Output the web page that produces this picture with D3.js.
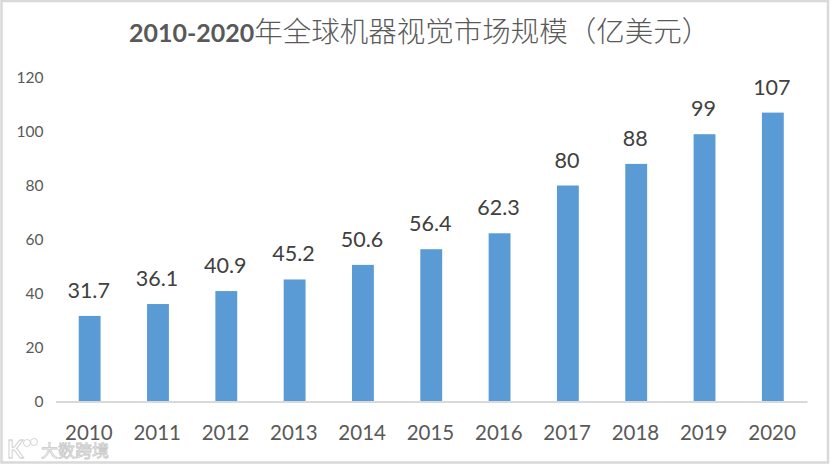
<!DOCTYPE html>
<html><head><meta charset="utf-8">
<script src="https://cdn.jsdelivr.net/npm/d3@7/dist/d3.min.js"></script>
<style>html,body{margin:0;padding:0;background:#fff}svg{display:block}text{font-family:Lato,"Noto Sans CJK SC",sans-serif}</style>
</head><body><svg id="c" width="831" height="465"></svg>
<script>
const years=["2010","2011","2012","2013","2014","2015","2016","2017","2018","2019","2020"];
const values=[31.7,36.1,40.9,45.2,50.6,56.4,62.3,80,88,99,107];
const valueTicks=[0,20,40,60,80,100,120];
const titleLatin="2010-2020";
const titleCjk="年全球机器视觉市场规模（亿美元）";
const watermark="大数跨境";

const svg=d3.select("#c");
svg.append("rect").attr("x",1.5).attr("y",1).attr("width",826.5).attr("height",461.5)
  .attr("fill","#fff").attr("stroke","#d9d9d9").attr("stroke-width",2.5);

const x=d3.scaleBand().domain(years).range([55.5,807]).paddingInner(0.68).paddingOuter(0.34);
const y=d3.scaleLinear().domain([0,120]).range([401.5,77.5]);

const gy=svg.append("g").attr("transform","translate(43.5,0)")
  .call(d3.axisLeft(y).tickValues(valueTicks).tickSize(0).tickPadding(0));
gy.select(".domain").remove();
gy.selectAll("text").attr("font-size",15.5).attr("fill","#595959").attr("font-family","Lato").attr("dy","0.33em");

svg.append("g").selectAll("rect").data(values).join("rect")
  .attr("x",(d,i)=>x(years[i])).attr("width",x.bandwidth())
  .attr("y",d=>y(d)).attr("height",d=>y(0)-y(d)).attr("fill","#5b9bd5");

const gx=svg.append("g").attr("transform",`translate(0,${y(0)})`)
  .call(d3.axisBottom(x).tickSize(0).tickPadding(0));
gx.select(".domain").attr("stroke","#d9d9d9").attr("stroke-width",2);
gx.selectAll("text").attr("font-size",20.5).attr("fill","#595959").attr("font-family","Lato").attr("dx","-0.8").attr("dy","38");

svg.append("g").selectAll("text").data(values).join("text")
  .attr("x",(d,i)=>x(years[i])+x.bandwidth()/2-1).attr("y",d=>y(d)-18)
  .attr("text-anchor","middle").attr("font-size",21.5).attr("fill","#404040").text(d=>d);

const t=svg.append("text").attr("x",129).attr("y",42).attr("text-anchor","start").attr("fill","#595959");
t.append("tspan").attr("font-size",25).attr("font-weight",700).attr("font-family","Lato").text(titleLatin);
t.append("tspan").attr("font-size",28.5).attr("font-family","'Noto Sans CJK SC'").attr("font-weight",300).text(titleCjk);

const wm=svg.append("g").attr("fill","#fff").attr("stroke","#c9c9c9").attr("stroke-width",0.8);
wm.append("text").attr("x",41).attr("y",457).attr("font-size",17).attr("font-family","'Noto Sans CJK SC'").text(watermark);
wm.append("text").attr("x",7).attr("y",458).attr("font-size",24).attr("font-weight",700).attr("font-family","Lato").text("K");
wm.append("circle").attr("cx",27).attr("cy",443).attr("r",3.5);
wm.append("circle").attr("cx",34).attr("cy",442).attr("r",3.5);
</script></body></html>
